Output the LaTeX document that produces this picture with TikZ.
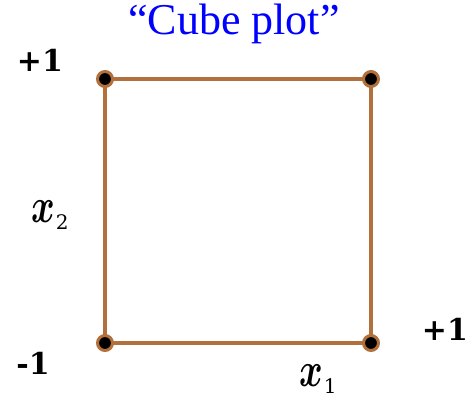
\documentclass[tikz,border=0pt]{standalone}
\usepackage{fontspec}
\setmainfont{Liberation Serif}
\newfontfamily\lblfont{DejaVu Serif}
\definecolor{brownline}{RGB}{178,112,60}
\definecolor{titleblue}{RGB}{0,0,255}
\newcommand{\varx}[1]{{\normalsize\scalebox{3.6}[4.9]{\boldmath$x$}}\kern1pt\raisebox{-7pt}{#1}}
\tikzset{
  corner/.style={circle, fill=black, draw=brownline, line width=3pt, minimum size=15pt, inner sep=0pt},
  edge/.style={draw=brownline, line width=3.3pt},
  lvl/.style={inner sep=0pt, font=\lblfont\bfseries\fontsize{30}{32}\selectfont},
  var/.style={inner sep=0pt, font=\lblfont\fontsize{20}{22}\selectfont}
}
\begin{document}
\begin{tikzpicture}[x=1pt,y=-1pt]
\useasboundingbox (0,0) rectangle (467,397);
\coordinate (a) at (105,79);
\coordinate (b) at (371,79);
\coordinate (c) at (371,343);
\coordinate (d) at (105,343);
\draw[edge] (a) -- (b) -- (c) -- (d) -- cycle;
\node[corner] (na) at (a) {};
\node[corner] (nb) at (b) {};
\node[corner] (nc) at (c) {};
\node[corner] (nd) at (d) {};
\node[inner sep=0pt, anchor=base, text=titleblue, font=\fontsize{44}{48}\selectfont] (title) at (234,34) {“Cube plot”};
\node[lvl, anchor=base] (ptop) at (40,71) {+1};
\node[lvl, anchor=base] (pright) at (445,340) {+1};
\node[lvl, anchor=base] (mleft) at (33,374) {-1};
\node[var, anchor=base west] (x2) at (31,222) {\varx{2}};
\node[var, anchor=base west] (x1) at (299,386) {\varx{1}};
\end{tikzpicture}
\end{document}
